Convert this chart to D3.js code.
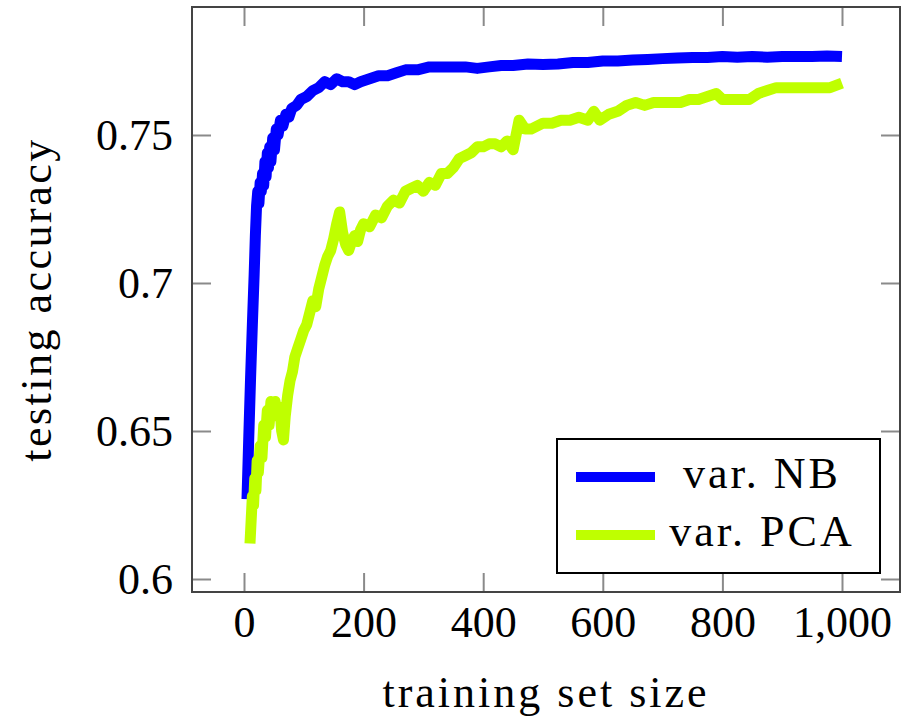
<!DOCTYPE html>
<html>
<head>
<meta charset="utf-8">
<script src="https://cdn.jsdelivr.net/npm/d3@7"></script>
<style>
  html, body { margin: 0; padding: 0; background: #fff; }
  svg { display: block; }
  text { font-family: 'Liberation Serif', 'Times New Roman', serif; fill: #000; }
</style>
</head>
<body>
<div id="chart"></div>
<script>
// training set size / testing accuracy
const nbSize = [5, 8, 11, 14, 17, 19, 21, 23, 25, 27, 29, 31, 33, 35, 37, 39, 41, 43, 45, 48, 51, 54, 57, 61, 65, 70, 75, 80, 88, 95,
  105, 115, 125, 135, 145, 155, 165, 175, 185, 195, 210, 225, 240, 255, 270, 290, 310, 330, 350, 370, 390, 410, 430, 450, 475,
  500, 525, 550, 575, 600, 625, 650, 675, 700, 725, 750, 775, 800, 825, 850, 875, 900, 925, 950, 975, 1000];
const nbAcc = [0.627, 0.648, 0.668, 0.686, 0.703, 0.716, 0.726, 0.731, 0.727, 0.734, 0.731, 0.737, 0.733, 0.741, 0.736, 0.744,
  0.739, 0.746, 0.741, 0.749, 0.745, 0.752, 0.750, 0.755, 0.753, 0.757, 0.756, 0.759, 0.760, 0.762,
  0.763, 0.765, 0.766, 0.768, 0.767, 0.769, 0.768, 0.768, 0.767, 0.768, 0.769, 0.770, 0.770, 0.771, 0.772, 0.772, 0.773, 0.773,
  0.773, 0.773, 0.7725, 0.773, 0.7735, 0.7735, 0.774, 0.7738, 0.774, 0.7745, 0.7745, 0.775, 0.775, 0.7753, 0.7755, 0.7758,
  0.776, 0.7762, 0.7762, 0.7765, 0.7763, 0.7765, 0.7763, 0.7765, 0.7765, 0.7765, 0.7767, 0.7765];

const pcaSize = [10, 12, 14, 16, 18, 20, 22, 24, 27, 30, 33, 36, 39, 42, 45, 48, 52, 56, 60, 63, 66, 69, 73, 77, 81, 85, 90, 95,
  100, 105, 110, 115, 120, 125, 130, 135, 140, 145, 150, 155, 160, 165, 170, 175, 180, 185, 190, 195, 200, 210, 220, 230, 240,
  250, 260, 270, 280, 290, 300, 310, 320, 330, 340, 350, 360, 370, 380, 390, 400, 410, 420, 430, 440, 450, 460, 470, 480, 490,
  500, 515, 530, 545, 560, 575, 585, 595, 610, 625, 640, 655, 670, 685, 700, 715, 730, 745, 760, 775, 790, 800, 815, 830, 845,
  860, 875, 890, 905, 920, 935, 950, 965, 980, 1000];
const pcaAcc = [0.612, 0.620, 0.628, 0.625, 0.634, 0.630, 0.640, 0.636, 0.645, 0.641, 0.652, 0.648, 0.657, 0.652, 0.660, 0.656,
  0.660, 0.655, 0.658, 0.650, 0.647, 0.655, 0.662, 0.667, 0.670, 0.675, 0.678, 0.681,
  0.684, 0.686, 0.690, 0.694, 0.692, 0.698, 0.702, 0.706, 0.709, 0.711, 0.715, 0.720, 0.724, 0.717, 0.713, 0.711, 0.714, 0.716,
  0.714, 0.718, 0.720, 0.719, 0.723, 0.722, 0.726, 0.728, 0.727, 0.731, 0.732, 0.733, 0.731, 0.734, 0.733, 0.737, 0.737, 0.739,
  0.742, 0.743, 0.744, 0.746, 0.746, 0.747, 0.747, 0.746, 0.748, 0.745, 0.755, 0.752, 0.752, 0.753,
  0.754, 0.754, 0.755, 0.755, 0.756, 0.755, 0.758, 0.755, 0.757, 0.758, 0.760, 0.761, 0.760, 0.761, 0.761, 0.761, 0.761, 0.762,
  0.762, 0.763, 0.764, 0.762, 0.762, 0.762, 0.762, 0.764, 0.765, 0.766, 0.766, 0.766, 0.766, 0.766, 0.766, 0.766, 0.7675];

const xTicks = [0, 200, 400, 600, 800, 1000];
const yTicks = [0.6, 0.65, 0.7, 0.75];

const seriesNames = ['var. NB', 'var. PCA'];
const seriesColors = ['#0000ff', '#bfff00'];

const width = 903;
const height = 721;
const box = { left: 192, top: 7, right: 900, bottom: 592 };

const x = d3.scaleLinear().domain([-86.96, 1097]).range([box.left, box.right]);
const y = d3.scaleLinear().domain([0.59561, 0.79324]).range([box.bottom, box.top]);

const svg = d3.select('#chart').append('svg').attr('width', width).attr('height', height);

// axes with inward ticks on all four sides
const tickLen = 19;
const styleAxis = (g) => {
  g.select('.domain').remove();
  g.selectAll('.tick line').attr('stroke', '#8a8a8a').attr('stroke-width', 2);
  g.selectAll('.tick text').attr('font-size', 44).attr('font-family', "'Liberation Serif', serif").attr('fill', '#000');
};

svg.append('g')
  .attr('transform', `translate(0,${box.bottom})`)
  .call(d3.axisBottom(x).tickValues(xTicks).tickFormat(d3.format(',')).tickSize(-tickLen).tickPadding(14))
  .call(styleAxis);
svg.append('g')
  .attr('transform', `translate(0,${box.top})`)
  .call(d3.axisTop(x).tickValues(xTicks).tickFormat('').tickSize(-tickLen))
  .call(styleAxis);
svg.append('g')
  .attr('transform', `translate(${box.left},0)`)
  .call(d3.axisLeft(y).tickValues(yTicks).tickFormat((d) => String(d)).tickSize(-tickLen).tickPadding(19))
  .call(styleAxis);
svg.append('g')
  .attr('transform', `translate(${box.right},0)`)
  .call(d3.axisRight(y).tickValues(yTicks).tickFormat('').tickSize(-tickLen))
  .call(styleAxis);

const line = d3.line().x((d) => x(d[0])).y((d) => y(d[1]));

const series = [
  d3.zip(nbSize, nbAcc),
  d3.zip(pcaSize, pcaAcc),
];

svg.append('g')
  .selectAll('path')
  .data(series)
  .join('path')
  .attr('d', line)
  .attr('fill', 'none')
  .attr('stroke', (d, i) => seriesColors[i])
  .attr('stroke-width', 11)
  .attr('stroke-linejoin', 'round');

// frame
svg.append('rect')
  .attr('x', box.left)
  .attr('y', box.top)
  .attr('width', box.right - box.left)
  .attr('height', box.bottom - box.top)
  .attr('fill', 'none')
  .attr('stroke', '#444')
  .attr('stroke-width', 2);

// axis titles
svg.append('text')
  .attr('x', (box.left + box.right) / 2)
  .attr('y', 707)
  .attr('text-anchor', 'middle')
  .attr('font-size', 44)
  .attr('letter-spacing', 3)
  .text('training set size');

svg.append('text')
  .attr('transform', `translate(51,${(box.top + box.bottom) / 2}) rotate(-90)`)
  .attr('text-anchor', 'middle')
  .attr('font-size', 44)
  .attr('letter-spacing', 2.5)
  .text('testing accuracy');

// legend
const legend = svg.append('g');
legend.append('rect')
  .attr('x', 557)
  .attr('y', 439)
  .attr('width', 323)
  .attr('height', 134)
  .attr('fill', '#fff')
  .attr('stroke', '#000')
  .attr('stroke-width', 2);

const item = legend.selectAll('g.item')
  .data(seriesNames)
  .join('g')
  .attr('class', 'item')
  .attr('transform', (d, i) => `translate(0,${477 + i * 58})`);

item.append('line')
  .attr('x1', 576)
  .attr('x2', 655)
  .attr('stroke', (d, i) => seriesColors[i])
  .attr('stroke-width', 10);

item.append('text')
  .attr('x', 762)
  .attr('y', 11)
  .attr('text-anchor', 'middle')
  .attr('font-size', 44)
  .attr('letter-spacing', 3)
  .text((d) => d);
</script>
</body>
</html>
